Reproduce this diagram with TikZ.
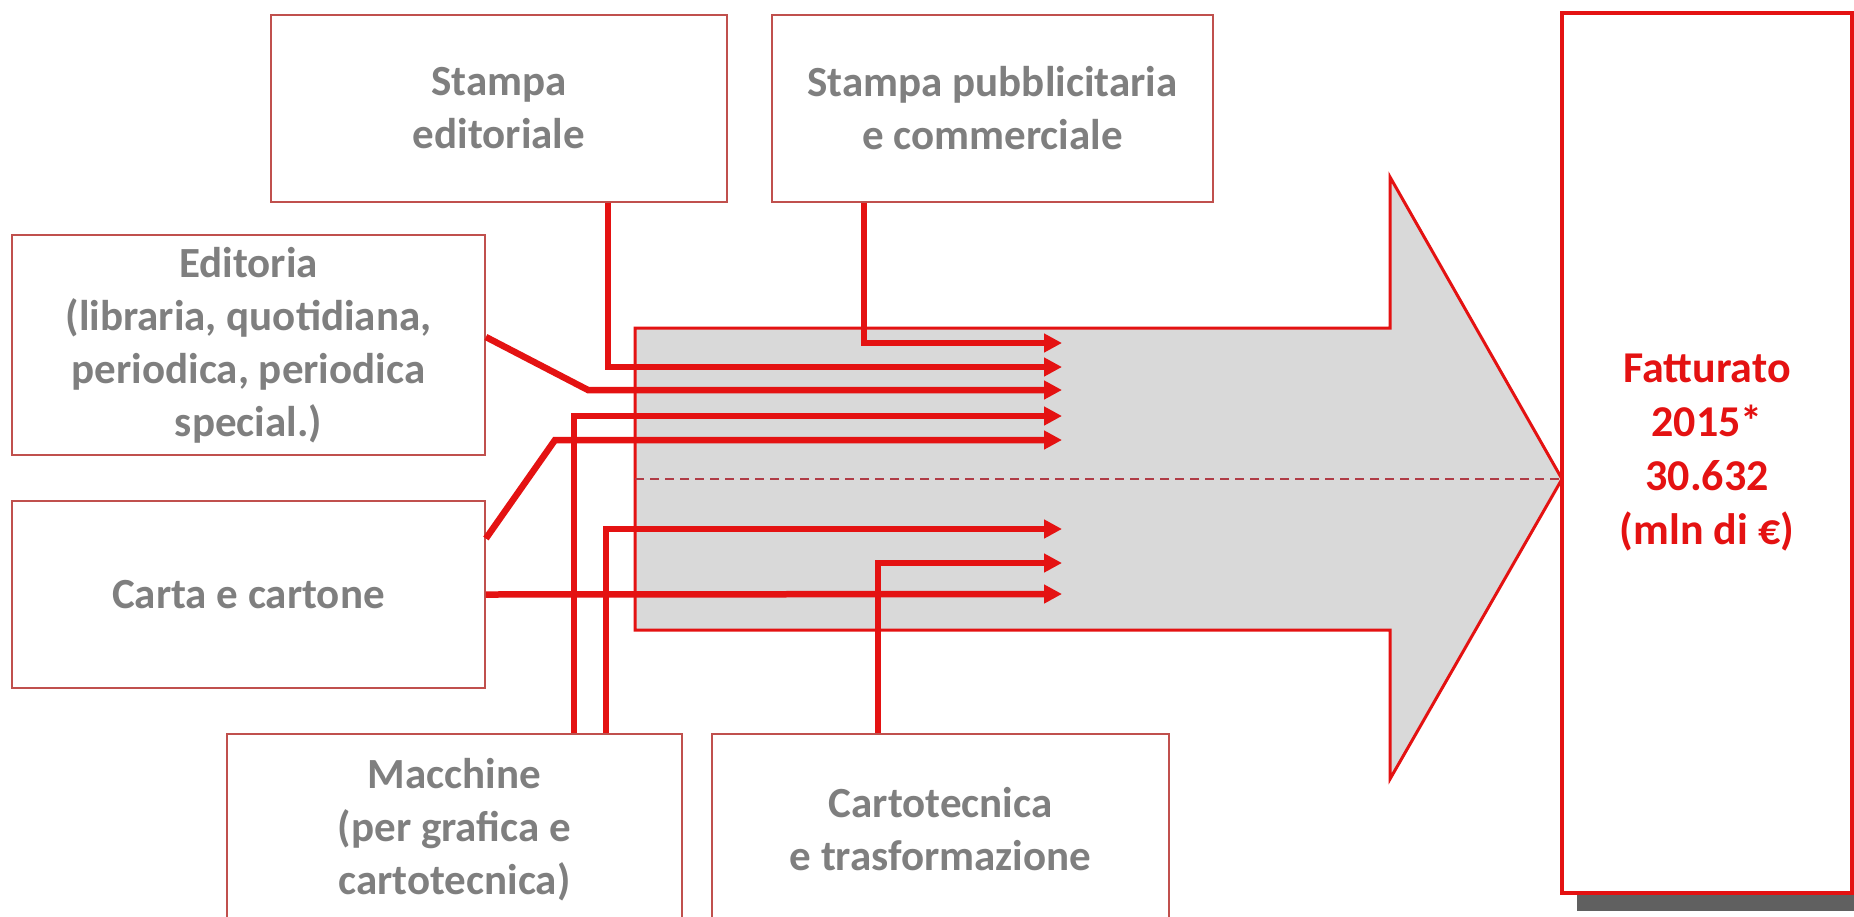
\documentclass[tikz,border=0pt]{standalone}
\usepackage{fontspec}
\setmainfont{Carlito}
\usetikzlibrary{arrows.meta,calc}
\definecolor{lred}{RGB}{228,18,18}
\definecolor{bred}{RGB}{192,80,77}
\definecolor{tgrey}{RGB}{127,127,127}
\definecolor{agrey}{RGB}{217,217,217}
\definecolor{sgrey}{RGB}{96,96,96}
\definecolor{dred}{RGB}{176,60,70}
\tikzset{
  srcbox/.style={draw=bred, line width=1.8pt, fill=white, inner sep=0pt,
    align=center, text=tgrey, font=\fontsize{43}{53}\selectfont\bfseries},
  flow/.style={draw=lred, line width=6.5pt, -{Triangle[length=18pt,width=18pt]}},
  bigarrow/.style={draw=lred, line width=3pt, fill=agrey, line join=miter},
  resbox/.style={draw=lred, line width=4pt, fill=white, inner sep=0pt,
    align=center, text=lred, font=\fontsize{44}{54}\selectfont\bfseries}
}
\begin{document}
\begin{tikzpicture}[x=1pt,y=-1pt]
\useasboundingbox[fill=white] (0,0) rectangle (1854,916);

% big arrow
\draw[bigarrow] (635,328) -- (1390,328) -- (1390,177) -- (1562,479)
  -- (1390,779) -- (1390,630) -- (635,630) -- cycle;
\coordinate (dl) at (635,479);
\coordinate (tip) at (1562,479);
\draw[dred, line width=1.5pt, dash pattern=on 9pt off 6pt] (dl) -- (tip);

% source boxes
\node[srcbox, minimum width=456pt, minimum height=187pt] (se) at (499,108.5) {Stampa\\editoriale};
\node[srcbox, minimum width=441pt, minimum height=187pt] (sp) at (992.5,108.5) {Stampa pubblicitaria\\e commerciale};
\node[srcbox, minimum width=473pt, minimum height=220pt] (ed) at (248.5,345) {Editoria\\(libraria, quotidiana,\\periodica, periodica\\special.)};
\node[srcbox, minimum width=473pt, minimum height=187pt] (ca) at (248.5,594.5) {Carta e cartone};
\node[srcbox, minimum width=455pt, minimum height=191pt] (ma) at (454.5,829.5) {Macchine\\(per grafica e\\cartotecnica)};
\node[srcbox, minimum width=457pt, minimum height=191pt] (ct) at (940.5,829.5) {Cartotecnica\\e trasformazione};

% result box with shadow
\fill[sgrey] (1577,30) rectangle (1870,911);
\node[resbox, minimum width=290pt, minimum height=880pt] (fa) at (1707,453) {Fatturato\\2015*\\30.632\\(mln di €)};

% arrow tips
\coordinate (t1) at (1062,343);
\coordinate (t2) at (1062,367);
\coordinate (t3) at (1062,390);
\coordinate (t4) at (1062,416);
\coordinate (t5) at (1062,440);
\coordinate (t6) at (1062,529);
\coordinate (t7) at (1062,563);
\coordinate (t8) at (1062,594);
\coordinate (k3) at (588,390);
\coordinate (k5) at (555,440);

% connectors
\draw[flow] ([xshift=93pt]sp.south west) |- (t1);
\draw[flow] ([xshift=-120pt]se.south east) |- (t2);
\draw[flow] ([yshift=8pt]ed.east) -- (k3) -- (t3);
\draw[flow] ([xshift=348pt]ma.north west) |- (t4);
\draw[flow] ([yshift=56pt]ca.east) -- (k5) -- (t5);
\draw[flow] ([xshift=380pt]ma.north west) |- (t6);
\draw[flow] ([xshift=167pt]ct.north west) |- (t7);
\draw[flow] (ca.east) -- (t8);
\end{tikzpicture}
\end{document}
